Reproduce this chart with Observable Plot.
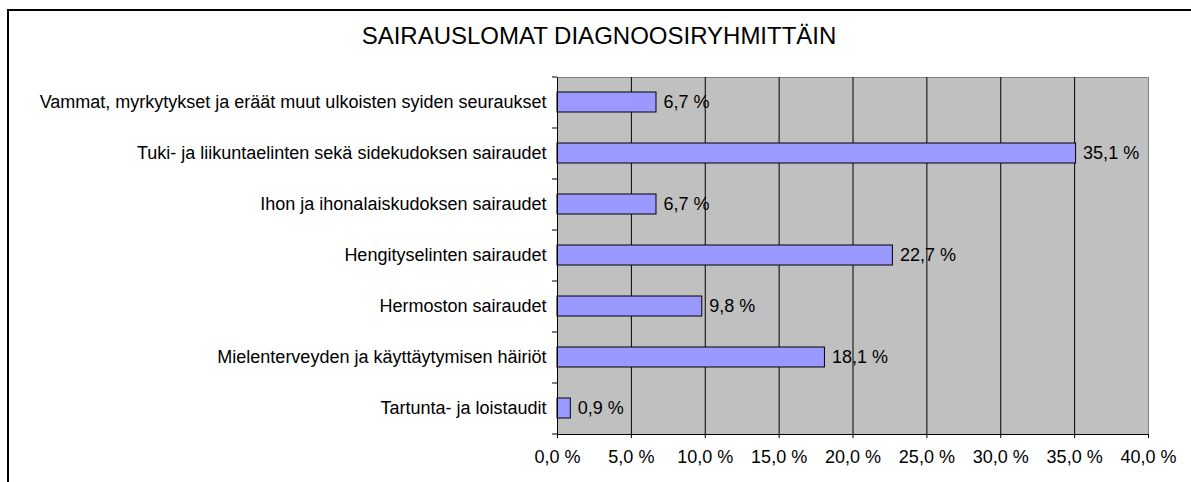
<!DOCTYPE html>
<html>
<head>
<meta charset="utf-8">
<script src="https://cdn.jsdelivr.net/npm/d3@7"></script>
<script src="https://cdn.jsdelivr.net/npm/@observablehq/plot@0.6"></script>
<style>
  html, body { margin: 0; padding: 0; background: #fff; }
  body { width: 1191px; height: 482px; position: relative; overflow: hidden; font-family: "Liberation Sans", Arial, sans-serif; }
  #box { position: absolute; left: 7px; top: 9px; width: 1200px; height: 500px; border-left: 2px solid #000; border-top: 2px solid #000; box-sizing: border-box; }
  #title { position: absolute; left: 0; width: 1198px; top: 24px; text-align: center; font-size: 24px; color: #000; line-height: 24px; white-space: nowrap; }
  #chart { position: absolute; left: 0; top: 0; }
</style>
</head>
<body>
<div id="box"></div>
<div id="title">SAIRAUSLOMAT DIAGNOOSIRYHMITTÄIN</div>
<div id="chart"></div>
<script>
const categories = [
  "Vammat, myrkytykset ja eräät muut ulkoisten syiden seuraukset",
  "Tuki- ja liikuntaelinten sekä sidekudoksen sairaudet",
  "Ihon ja ihonalaiskudoksen sairaudet",
  "Hengityselinten sairaudet",
  "Hermoston sairaudet",
  "Mielenterveyden ja käyttäytymisen häiriöt",
  "Tartunta- ja loistaudit"
];
const values = [6.7, 35.1, 6.7, 22.7, 9.8, 18.1, 0.9];
const xTicks = [0, 5, 10, 15, 20, 25, 30, 35, 40];
const gridTicks = [5, 10, 15, 20, 25, 30, 35];

const data = categories.map((c, i) => ({cat: c, value: values[i]}));
const fmt = v => v.toFixed(1).replace(".", ",") + " %";

const W = 1191, H = 482, mt = 77, mb = 48, ml = 557, mr = 43;
const step = (H - mt - mb) / categories.length;

const chart = Plot.plot({
  width: W,
  height: H,
  marginTop: mt,
  marginBottom: mb,
  marginLeft: ml,
  marginRight: mr,
  style: {fontFamily: "'Liberation Sans', Arial, sans-serif", fontSize: "18px", color: "#000", background: "transparent", overflow: "visible"},
  x: {domain: [0, 40]},
  y: {domain: categories, paddingInner: 0.6, paddingOuter: 0.3},
  marks: [
    Plot.frame({fill: "#C0C0C0", stroke: "#808080"}),
    Plot.ruleX(gridTicks, {stroke: "#000", strokeWidth: 1}),
    Plot.barX(data, {x: "value", y: "cat", fill: "#9999FF", stroke: "#000", strokeWidth: 1}),
    Plot.text(data, {x: "value", y: "cat", text: d => fmt(d.value), textAnchor: "start", dx: 7, fontSize: 18, fill: "#000"}),
    Plot.ruleX([0], {stroke: "#000"}),
    Plot.frame({anchor: "bottom", stroke: "#000"}),
    Plot.ruleY(categories, {y: d => d, x1: 0, x2: 0, insetLeft: -5, dy: -step / 2, stroke: "#000"}),
    Plot.ruleY([categories[categories.length - 1]], {y: d => d, x1: 0, x2: 0, insetLeft: -5, dy: step / 2, stroke: "#000"}),
    Plot.axisY({tickSize: 0, tickPadding: 11, fontSize: 18, label: null}),
    Plot.axisX({ticks: xTicks, tickFormat: fmt, tickSize: 4, tickPadding: 12, fontSize: 18, label: null})
  ]
});
document.getElementById("chart").appendChild(chart);
</script>
</body>
</html>
